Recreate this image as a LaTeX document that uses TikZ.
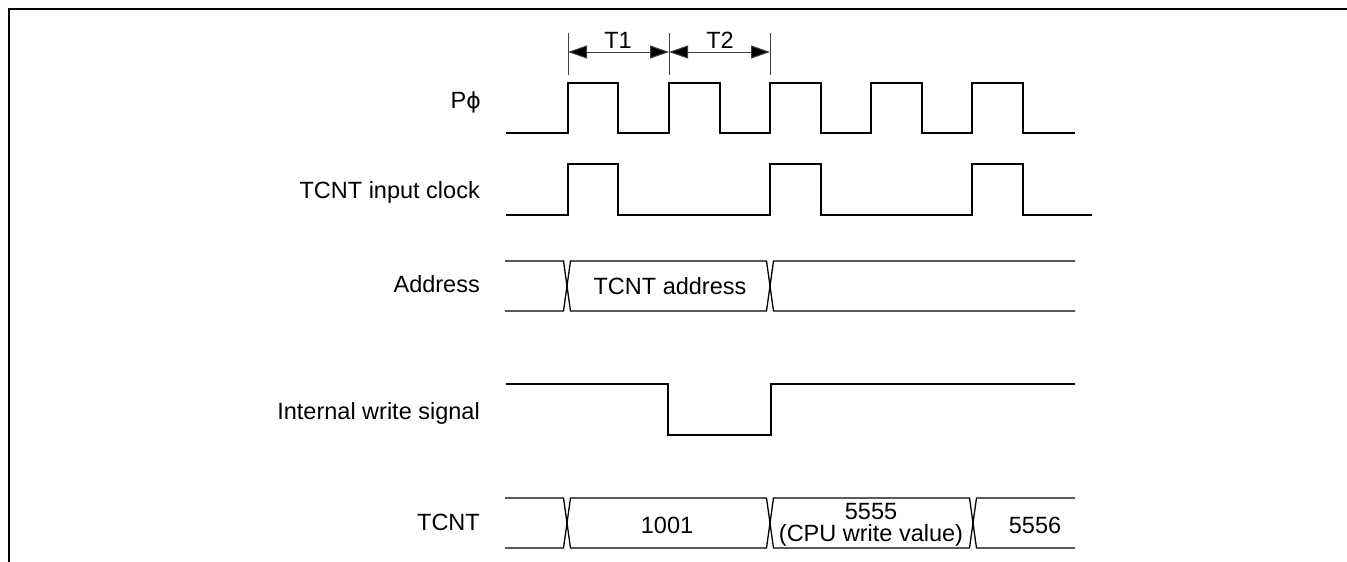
\documentclass[tikz,border=0pt]{standalone}
\usepackage{fontspec}
\setmainfont{Liberation Sans}
\newfontfamily\dejavu{DejaVu Sans}
\usetikzlibrary{arrows.meta}
\tikzset{
  sig/.style={line width=1.3pt, line join=miter},
  lbl/.style={anchor=east, inner sep=0pt, font=\fontsize{23.5}{26}\selectfont},
  txt/.style={inner sep=0pt, font=\fontsize{23.5}{26}\selectfont},
  dim/.style={line width=1pt, draw=black!75, {Triangle[length=19pt,width=13pt,fill=black]}-{Triangle[length=19pt,width=13pt,fill=black]}},
  tick/.style={line width=1pt, draw=black!75},
}
\begin{document}
\begin{tikzpicture}[x=1pt,y=-1pt]
\useasboundingbox (0,0) rectangle (1347,562);
% frame
\draw[line width=1.8pt] (9,562) -- (9,9) -- (1347,9);
% labels
\node[lbl] (lphi) at (481,102) {P{\dejavu\fontsize{22}{24}\selectfont ϕ}};
\node[lbl] (lclk) at (480,192) {TCNT input clock};
\node[lbl] (ladr) at (480,284) {Address};
\node[lbl] (lwr) at (480,413) {Internal write signal};
\node[lbl] (ltc) at (480,522) {TCNT};
% T1/T2
\coordinate (k1) at (568,52);
\coordinate (k2) at (669,52);
\coordinate (k3) at (770,52);
\draw[tick] (568,33) -- (568,75);
\draw[tick] (669,33) -- (669,75);
\draw[tick] (770,33) -- (770,75);
\draw[dim] (k1) -- (k2);
\draw[dim] (k2) -- (k3);
\node[txt] (t1) at (618,40) {T1};
\node[txt] (t2) at (720,40) {T2};
% P phi
\draw[sig] (506,133) -- (568,133) -- (568,83) -- (618,83) -- (618,133) -- (669,133) -- (669,83) -- (720,83) -- (720,133) -- (770,133) -- (770,83) -- (821,83) -- (821,133) -- (871,133) -- (871,83) -- (922,83) -- (922,133) -- (972,133) -- (972,83) -- (1023,83) -- (1023,133) -- (1075,133);
% TCNT input clock
\draw[sig] (506,215) -- (568,215) -- (568,164) -- (618,164) -- (618,215) -- (770,215) -- (770,164) -- (821,164) -- (821,215) -- (972,215) -- (972,164) -- (1023,164) -- (1023,215) -- (1092,215);
% Address
\draw[sig] (505,261) -- (563.5,261) -- (570.5,311) -- (766.5,311) -- (773.5,261) -- (1075,261);
\draw[sig] (505,311) -- (563.5,311) -- (570.5,261) -- (766.5,261) -- (773.5,311) -- (1075,311);
\node[txt] (aaddr) at (670,286) {TCNT address};
% Internal write
\draw[sig] (506,384) -- (668,384) -- (668,435) -- (771,435) -- (771,384) -- (1075,384);
% TCNT
\draw[sig] (505,498) -- (563.5,498) -- (570.5,548) -- (766.5,548) -- (773.5,498) -- (969.5,498) -- (976.5,548) -- (1075,548);
\draw[sig] (505,548) -- (563.5,548) -- (570.5,498) -- (766.5,498) -- (773.5,548) -- (969.5,548) -- (976.5,498) -- (1075,498);
\node[txt] (v1) at (667,525) {1001};
\node[txt, align=center, font=\fontsize{23.5}{21.7}\selectfont] (v2) at (871,525) {5555\\(CPU write value)};
\node[txt] (v3) at (1035,525) {5556};
\end{tikzpicture}
\end{document}
